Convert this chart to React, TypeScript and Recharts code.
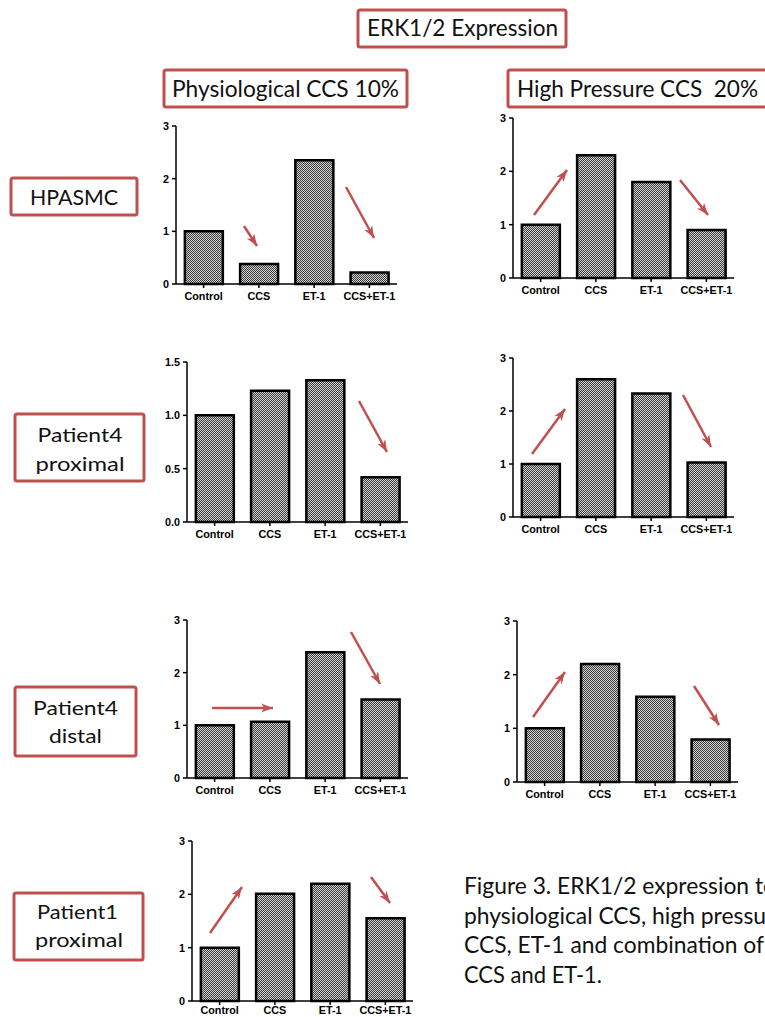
import React from 'react';
import { BarChart, Bar, XAxis, YAxis } from 'recharts';

// ---- data ----
const categories = ['Control', 'CCS', 'ET-1', 'CCS+ET-1'];
const hpasmcPhysiological = [1.0, 0.38, 2.35, 0.22];
const hpasmcHighPressure = [1.0, 2.3, 1.8, 0.9];
const patient4ProximalPhysiological = [1.0, 1.23, 1.33, 0.42];
const patient4ProximalHighPressure = [1.0, 2.6, 2.33, 1.03];
const patient4DistalPhysiological = [1.0, 1.07, 2.39, 1.49];
const patient4DistalHighPressure = [1.0, 2.2, 1.59, 0.79];
const patient1ProximalPhysiological = [1.0, 2.01, 2.2, 1.55];
const ticks3 = [0, 1, 2, 3];
const ticks15 = [0, 0.5, 1.0, 1.5];

const RED = '#c0504d';
const LABEL_FONT = "Lato, 'Open Sans', sans-serif";
const AXIS_FONT = "'Liberation Sans', Arial, sans-serif";

type PanelProps = {
  id: string;
  values: number[];
  axisX: number;
  topY: number;
  zeroY: number;
  max: number;
  ticks: number[];
  decimals: number;
  xMargin?: number;
};

const YW = 36;
const MT = 8;
const MR = 10;
const XH = 22;
const PLOT_W = 221;

function Panel({ id, values, axisX, topY, zeroY, max, ticks, decimals, xMargin = 4 }: PanelProps) {
  const data = categories.map((c, i) => ({ name: c, value: values[i] }));
  const plotH = zeroY - topY;
  const tickStyle = { fill: '#000', fontSize: 10.8, fontWeight: 700, fontFamily: AXIS_FONT };
  const lineStyle = { stroke: '#000', strokeWidth: 1.5 };
  return (
    <div style={{ position: 'absolute', left: axisX - YW, top: topY - MT }}>
      <BarChart
        width={YW + PLOT_W + MR}
        height={MT + plotH + XH}
        data={data}
        margin={{ top: MT, right: MR, bottom: 0, left: 0 }}
        barCategoryGap="16%"
      >
        <defs>
          <pattern id={id} x={0} y={0} width={2} height={2} patternUnits="userSpaceOnUse">
            <rect width={2} height={2} fill="#d4d4d4" />
            <rect width={1} height={1} fill="#3a3a3a" />
            <rect x={1} y={1} width={1} height={1} fill="#3a3a3a" />
          </pattern>
        </defs>
        <XAxis
          dataKey="name"
          height={XH}
          interval={0}
          tickSize={4}
          tickMargin={xMargin}
          axisLine={lineStyle}
          tickLine={lineStyle}
          tick={tickStyle}
        />
        <YAxis
          width={YW}
          domain={[0, max]}
          ticks={ticks}
          tickSize={4}
          tickMargin={3}
          axisLine={lineStyle}
          tickLine={lineStyle}
          tick={tickStyle}
          tickFormatter={(v: number) => v.toFixed(decimals)}
        />
        <Bar
          dataKey="value"
          fill={`url(#${id})`}
          stroke="#000"
          strokeWidth={2.5}
          isAnimationActive={false}
        />
      </BarChart>
    </div>
  );
}

const panels: PanelProps[] = [
  { id: 'p1', values: hpasmcPhysiological, axisX: 176, topY: 126, zeroY: 284, max: 3, ticks: ticks3, decimals: 0 },
  { id: 'p2', values: hpasmcHighPressure, axisX: 513, topY: 118, zeroY: 278, max: 3, ticks: ticks3, decimals: 0 },
  { id: 'p3', values: patient4ProximalPhysiological, axisX: 187, topY: 362, zeroY: 522, max: 1.5, ticks: ticks15, decimals: 1 },
  { id: 'p4', values: patient4ProximalHighPressure, axisX: 513, topY: 358, zeroY: 517, max: 3, ticks: ticks3, decimals: 0 },
  { id: 'p5', values: patient4DistalPhysiological, axisX: 187, topY: 620, zeroY: 778, max: 3, ticks: ticks3, decimals: 0 },
  { id: 'p6', values: patient4DistalHighPressure, axisX: 517, topY: 621, zeroY: 782, max: 3, ticks: ticks3, decimals: 0 },
  { id: 'p7', values: patient1ProximalPhysiological, axisX: 192, topY: 841, zeroY: 1001, max: 3, ticks: ticks3, decimals: 0, xMargin: 1 },
];

// annotation arrows [x1, y1, x2, y2]
const arrows: number[][] = [
  [244, 226, 257, 246], [346, 187, 374, 238],
  [534, 215, 567, 170], [680, 180, 708, 215],
  [359, 401, 387, 452],
  [532, 454, 565, 409], [683, 395, 711, 447],
  [212, 708, 273, 708], [351, 632, 380, 684],
  [533, 717, 565, 672], [694, 686, 719, 725],
  [210, 933, 242, 887], [371, 877, 390, 903],
];

type BoxSpec = { x: number; y: number; w: number; h: number };
const boxes: BoxSpec[] = [
  { x: 358, y: 10, w: 208, h: 37 },
  { x: 164, y: 70, w: 243, h: 37 },
  { x: 508, y: 70, w: 270, h: 37 },
  { x: 11, y: 178, w: 126, h: 37 },
  { x: 15, y: 414, w: 129, h: 67 },
  { x: 15, y: 687, w: 121, h: 69 },
  { x: 14, y: 893, w: 129, h: 67 },
];

type TextSpec = { t: string; x: number; y: number; len?: number; size: number; anchor: 'start' | 'middle' };
const labels: TextSpec[] = [
  { t: 'ERK1/2 Expression', x: 367, y: 36, len: 191, size: 24, anchor: 'start' },
  { t: 'Physiological CCS 10%', x: 172, y: 97, len: 227, size: 24, anchor: 'start' },
  { t: 'High Pressure CCS  20%', x: 517, y: 97, len: 241, size: 24, anchor: 'start' },
  { t: 'HPASMC', x: 74, y: 205, len: 88, size: 21, anchor: 'middle' },
  { t: 'Patient4', x: 80, y: 442, len: 85, size: 20, anchor: 'middle' },
  { t: 'proximal', x: 80, y: 471, len: 89, size: 20, anchor: 'middle' },
  { t: 'Patient4', x: 75.5, y: 715, len: 85, size: 20, anchor: 'middle' },
  { t: 'distal', x: 75.5, y: 743, len: 53, size: 20, anchor: 'middle' },
  { t: 'Patient1', x: 77.5, y: 919, len: 81, size: 20, anchor: 'middle' },
  { t: 'proximal', x: 79, y: 947, len: 88, size: 20, anchor: 'middle' },
  { t: 'Figure 3. ERK1/2 expression to', x: 464, y: 894, len: 312, size: 23, anchor: 'start' },
  { t: 'physiological CCS, high pressure', x: 464, y: 924, len: 322, size: 23, anchor: 'start' },
  { t: 'CCS, ET-1 and combination of', x: 464, y: 953, len: 300, size: 23, anchor: 'start' },
  { t: 'CCS and ET-1.', x: 464, y: 983, len: 138, size: 23, anchor: 'start' },
];

export default function App() {
  return (
    <div
      style={{
        position: 'absolute',
        left: 0,
        top: 0,
        width: 765,
        height: 1017,
        overflow: 'hidden',
        background: '#fff',
      }}
    >
      {panels.map((p) => (
        <Panel key={p.id} {...p} />
      ))}
      <svg
        width={765}
        height={1017}
        style={{ position: 'absolute', left: 0, top: 0, pointerEvents: 'none' }}
      >
        <defs>
          <marker
            id="arrowHead"
            markerUnits="userSpaceOnUse"
            markerWidth={13}
            markerHeight={10}
            refX={12}
            refY={5}
            orient="auto"
          >
            <path d="M0,0.5 L12,5 L0,9.5 L3.5,5 Z" fill={RED} />
          </marker>
        </defs>
        {boxes.map((b, i) => (
          <rect
            key={'b' + i}
            x={b.x}
            y={b.y}
            width={b.w}
            height={b.h}
            rx={2}
            fill="#fff"
            stroke={RED}
            strokeWidth={3}
          />
        ))}
        {labels.map((l, i) => (
          <text
            key={'t' + i}
            x={l.x}
            y={l.y}
            fontSize={l.size}
            fontFamily={LABEL_FONT}
            fontWeight={400}
            fill="#111"
            textAnchor={l.anchor}
            textLength={l.len}
            lengthAdjust="spacingAndGlyphs"
            style={{ whiteSpace: 'pre' }}
          >
            {l.t}
          </text>
        ))}
        {arrows.map((a, i) => (
          <line
            key={'a' + i}
            x1={a[0]}
            y1={a[1]}
            x2={a[2]}
            y2={a[3]}
            stroke={RED}
            strokeWidth={2.5}
            markerEnd="url(#arrowHead)"
          />
        ))}
      </svg>
    </div>
  );
}
